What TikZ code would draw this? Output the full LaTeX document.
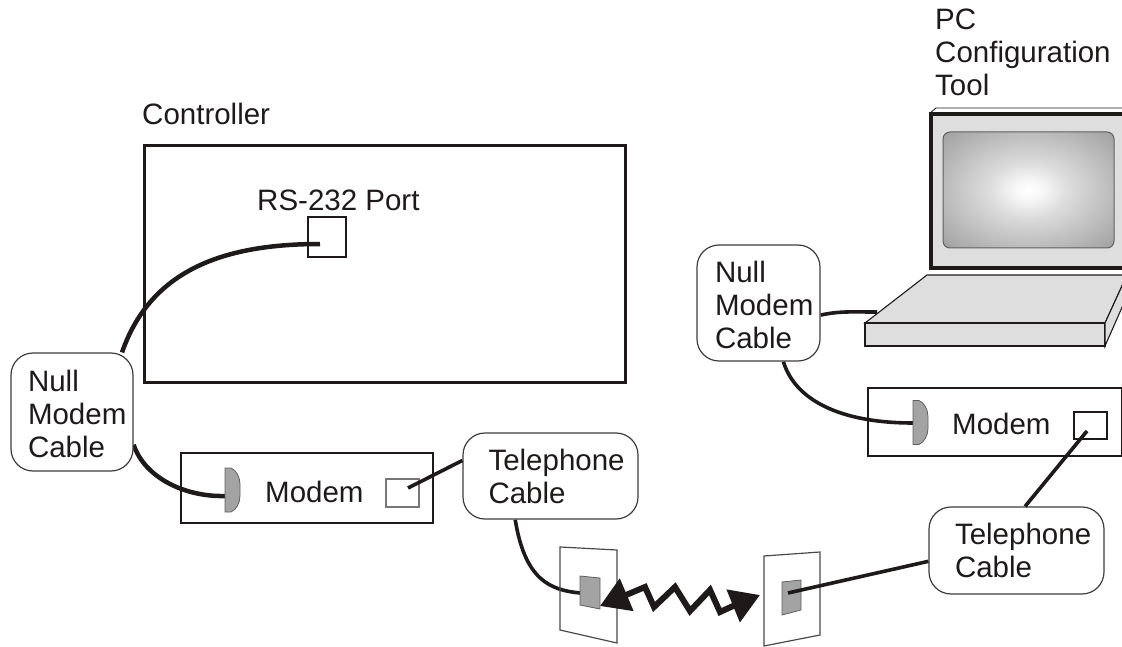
\documentclass[tikz,border=0pt]{standalone}
\usepackage{fontspec}
\setmainfont{Liberation Sans}
\usetikzlibrary{positioning,arrows.meta,backgrounds}
\definecolor{plug}{HTML}{A3A3A3}
\definecolor{casing}{HTML}{DEDEDE}
\definecolor{ink}{HTML}{1E1A1A}
\pgfdeclareradialshading{glass}{\pgfpoint{0bp}{0bp}}{color(0bp)=(white); color(4bp)=(black!3); color(12bp)=(black!14); color(25bp)=(black!27); color(36bp)=(black!38); color(50bp)=(black!38)}

\begin{document}
\begin{tikzpicture}[
    x=1pt, y=-1pt,
    txt/.style={inner sep=0pt, font=\fontsize{29.5}{33}\selectfont, text=ink, align=left},
    box/.style={draw=ink, line width=1.6pt, minimum width=#1, inner sep=0pt},
    bubble/.style={draw=ink!85, line width=1.2pt, fill=white, rounded corners=22pt, txt},
    port/.style={draw=ink, line width=1.2pt, minimum width=#1, inner sep=0pt},
    cable/.style={draw=ink, line width=4.5pt},
    wire/.style={draw=ink, line width=3.6pt},
    plate/.style={draw=ink!80, line width=1.2pt},
    socket/.style={draw=ink!70, line width=.8pt, fill=plug},
    wave/.style={draw=ink, line width=6pt, {Triangle[length=29pt,width=34pt]}-{Triangle[length=29pt,width=34pt]}},
    shell/.style={draw=ink, line width=1.1pt, fill=casing},
  ]
    \useasboundingbox (0,0) rectangle (1122,647);
    % controller
    \node[box=481pt, minimum height=236pt, line width=3pt] (ctrl) at (384.5,264) {};
    \node[txt, anchor=base west] (ctrllabel) at (142,125) {Controller};
    \node[port=38pt, minimum height=40pt] (rs) at (327,237) {};
    \node[txt, anchor=base west] (rslabel) at (257,211) {RS-232 Port};
    % modems
    \node[box=252pt, minimum height=70pt] (modemL) at (307,488) {};
    \node[txt, anchor=base west] (modemLtxt) at (265,502) {Modem};
    \node[port=33pt, minimum height=28pt, draw=ink!60] (portL) at (402.5,493) {};
    \node[box=254pt, minimum height=68pt] (modemR) at (995,422) {};
    \node[txt, anchor=base west] (modemRtxt) at (952,434) {Modem};
    \node[port=33pt, minimum height=27pt] (portR) at (1090.5,425.5) {};
    % bubbles
    \node[bubble, minimum width=122pt, minimum height=118pt, text width=88pt, text height=25pt] (nullL) at (72,412) {Null\\\mbox{Modem}\\Cable};
    \node[bubble, minimum width=123pt, minimum height=116pt, text width=87pt, text height=25pt] (nullR) at (758.5,303) {Null\\\mbox{Modem}\\Cable};
    \node[bubble, minimum width=175pt, minimum height=86pt, text width=124pt] (telL) at (550.5,476) {\mbox{Telephone}\\Cable};
    \node[bubble, minimum width=175pt, minimum height=87pt, text width=123pt] (telR) at (1016.5,550.5) {\mbox{Telephone}\\Cable};
    % laptop
    \node[txt, anchor=base west] (pctxt) at (935,96) {PC\\Configuration\\Tool};
    \draw[draw=ink, line width=.9pt] (930,113) -- (936,108) -- (1130,108);
    \draw[draw=ink, line width=4pt, fill=casing] (1130,114) -- (931,114) -- (931,268) -- (1130,268);
    \node[draw=ink!70, line width=1pt, rounded corners=7pt, minimum width=171pt, minimum height=116pt, shading=glass] (screen) at (1028.5,190) {};
    \draw[shell] (927,275) -- (1127,275) -- (1105,323) -- (865,323) -- cycle;
    \draw[shell] (865,323) rectangle (1105,346);
    \draw[shell] (1105,323) -- (1127,275) -- (1127,296) -- (1105,346) -- cycle;
    \coordinate (base) at (877,312);
    % plugs and wall plates
    \coordinate (plugL) at (225,490);
    \coordinate (plugR) at (913,422.5);
    \foreach \p in {plugL,plugR}
      \draw[socket] (\p) ++(0,-22) -- ++(6,0) .. controls +(5,2) and +(0,-7) .. ++(9,16) -- ++(0,12) .. controls +(0,7) and +(5,-2) .. ++(-9,16) -- ++(-6,0) -- cycle;
    \coordinate (tipL) at (225,496);
    \coordinate (tipR) at (913,423);
    \draw[plate] (560,547) -- (617,550) -- (617,643) -- (560,630) -- cycle;
    \draw[plate] (764,556) -- (820,552) -- (820,635) -- (764,646) -- cycle;
    \draw[socket] (580,576) -- (600,578) -- (600,609) -- (580,605) -- cycle;
    \draw[socket] (782,582) -- (801,580) -- (801,610) -- (782,615) -- cycle;
    \coordinate (jackL) at (580,593);
    \coordinate (jackR) at (788,593);
    \coordinate (inRS) at (320,244);
    \coordinate (inL) at (408,488);
    \coordinate (inR) at (1087,431);
    \coordinate (waveL) at (600,606);
    \coordinate (waveR) at (760,595);
    % cables
    \begin{scope}[on background layer]
      \draw[cable] (nullL.50) .. controls (150,272) and (220,244) .. (inRS);
      \draw[cable] (nullL.-28) .. controls (145,478) and (185,497) .. (tipL);
      \draw[wire] (telL.231) .. controls (525,580) and (550,590) .. (jackL);
      \draw[wire] (nullR.-11) .. controls (840,311) and (850,312) .. (base);
      \draw[wire] (nullR.-67) .. controls (795,400) and (840,423) .. (tipR);
    \end{scope}
    \draw[wire] (inL) -- (telL.170);
    \draw[wire] (inR) -- (telR.79);
    \draw[wire] (jackR) -- (telR.187);
    \draw[wave] (waveL) -- (645,587) -- (654,607) -- (675,587) -- (690,611) -- (710,590) -- (720,612) -- (733,606) -- (waveR);
  \end{tikzpicture}
\end{document}
